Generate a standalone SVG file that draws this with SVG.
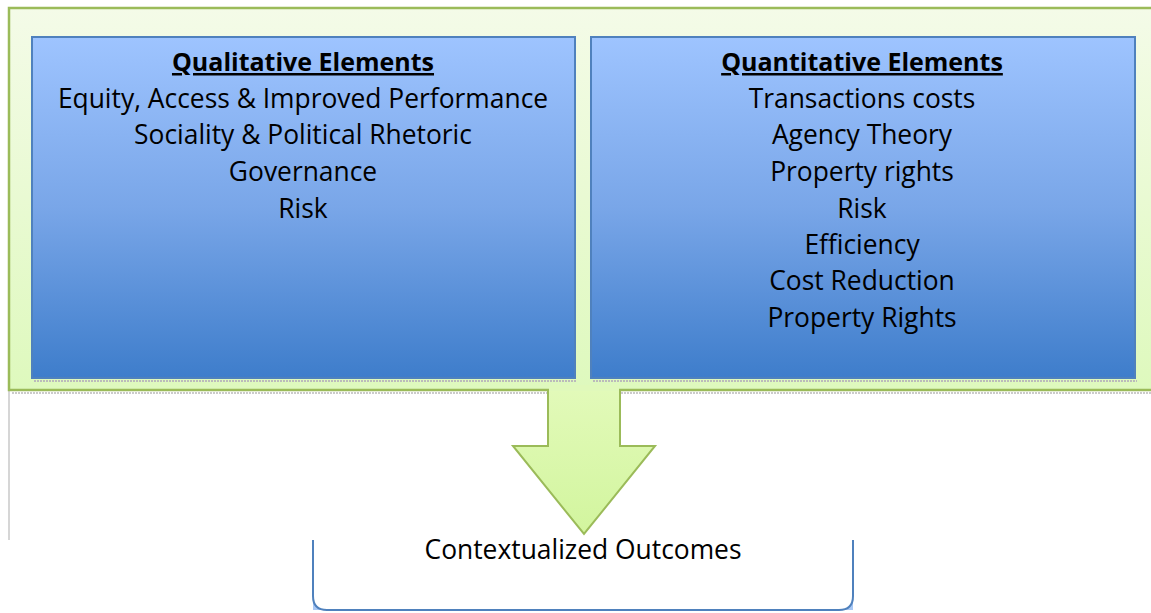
<svg xmlns="http://www.w3.org/2000/svg" width="1151" height="613" viewBox="0 0 1151 613">
<defs>
<linearGradient id="gOuter" x1="0" y1="0" x2="0" y2="1"><stop offset="0" stop-color="#f4fbe8"/><stop offset="1" stop-color="#def9bd"/></linearGradient>
<linearGradient id="gBlue" x1="0" y1="0" x2="0" y2="1"><stop offset="0" stop-color="#9ec4ff"/><stop offset="0.5" stop-color="#79a6e8"/><stop offset="1" stop-color="#3e7dcb"/></linearGradient>
<linearGradient id="gArrow" x1="0" y1="0" x2="0" y2="1"><stop offset="0" stop-color="#e2fab9"/><stop offset="1" stop-color="#d2f59e"/></linearGradient>
<style>
.t{font-family:"Open Sans","Liberation Sans",sans-serif;font-size:26.4px;fill:#000;text-anchor:middle}
.h{font-weight:bold;font-size:25px;text-decoration:underline}
.box{fill:url(#gBlue);stroke:#4f81bd;stroke-width:2}
</style>
</defs>
<rect width="1151" height="613" fill="#fff"/>
<line x1="9" y1="390" x2="9" y2="540" stroke="#c8c8c8" stroke-width="1.5"/>
<g id="container">
<rect x="9" y="8" width="1150" height="382" fill="url(#gOuter)" stroke="#9bbb59" stroke-width="2.5"/>
<line x1="12" y1="393" x2="1151" y2="393" stroke="#bbb" stroke-width="1.5" stroke-dasharray="2 1"/>
</g>
<g id="qualitative">
<line x1="34" y1="381" x2="577" y2="381" stroke="#bbb" stroke-width="2" stroke-dasharray="2 1"/>
<rect class="box" x="32" y="37" width="543" height="341"/>
<text class="t h" x="303" y="71">Qualitative Elements</text>
<text class="t" x="303" y="108">Equity, Access &amp; Improved Performance</text>
<text class="t" x="303" y="144">Sociality &amp; Political Rhetoric</text>
<text class="t" x="303" y="181">Governance</text>
<text class="t" x="303" y="218">Risk</text>
</g>
<g id="quantitative">
<line x1="593" y1="381" x2="1137" y2="381" stroke="#bbb" stroke-width="2" stroke-dasharray="2 1"/>
<rect class="box" x="591" y="37" width="544" height="341"/>
<text class="t h" x="862" y="71">Quantitative Elements</text>
<text class="t" x="862" y="108">Transactions costs</text>
<text class="t" x="862" y="144">Agency Theory</text>
<text class="t" x="862" y="181">Property rights</text>
<text class="t" x="862" y="218">Risk</text>
<text class="t" x="862" y="254">Efficiency</text>
<text class="t" x="862" y="290">Cost Reduction</text>
<text class="t" x="862" y="327">Property Rights</text>
</g>
<g id="connectors">
<path d="M548,390 V446 H513 L584,534 L655,446 H620 V390" fill="url(#gArrow)" stroke="#9bbb59" stroke-width="2" stroke-linejoin="miter"/>
<rect x="549" y="385" width="70" height="6" fill="#e0f9bb"/>
</g>
<g id="outcomes">
<path d="M313,596 Q313,610 327,610 L313,610 Z" fill="#a9c8f5"/>
<path d="M853,596 Q853,610 839,610 L853,610 Z" fill="#a9c8f5"/>
<path d="M313,540 V596 Q313,610 327,610 H839 Q853,610 853,596 V540" fill="none" stroke="#4f81bd" stroke-width="2"/>
<text class="t" x="583" y="559">Contextualized Outcomes</text>
</g>
</svg>
